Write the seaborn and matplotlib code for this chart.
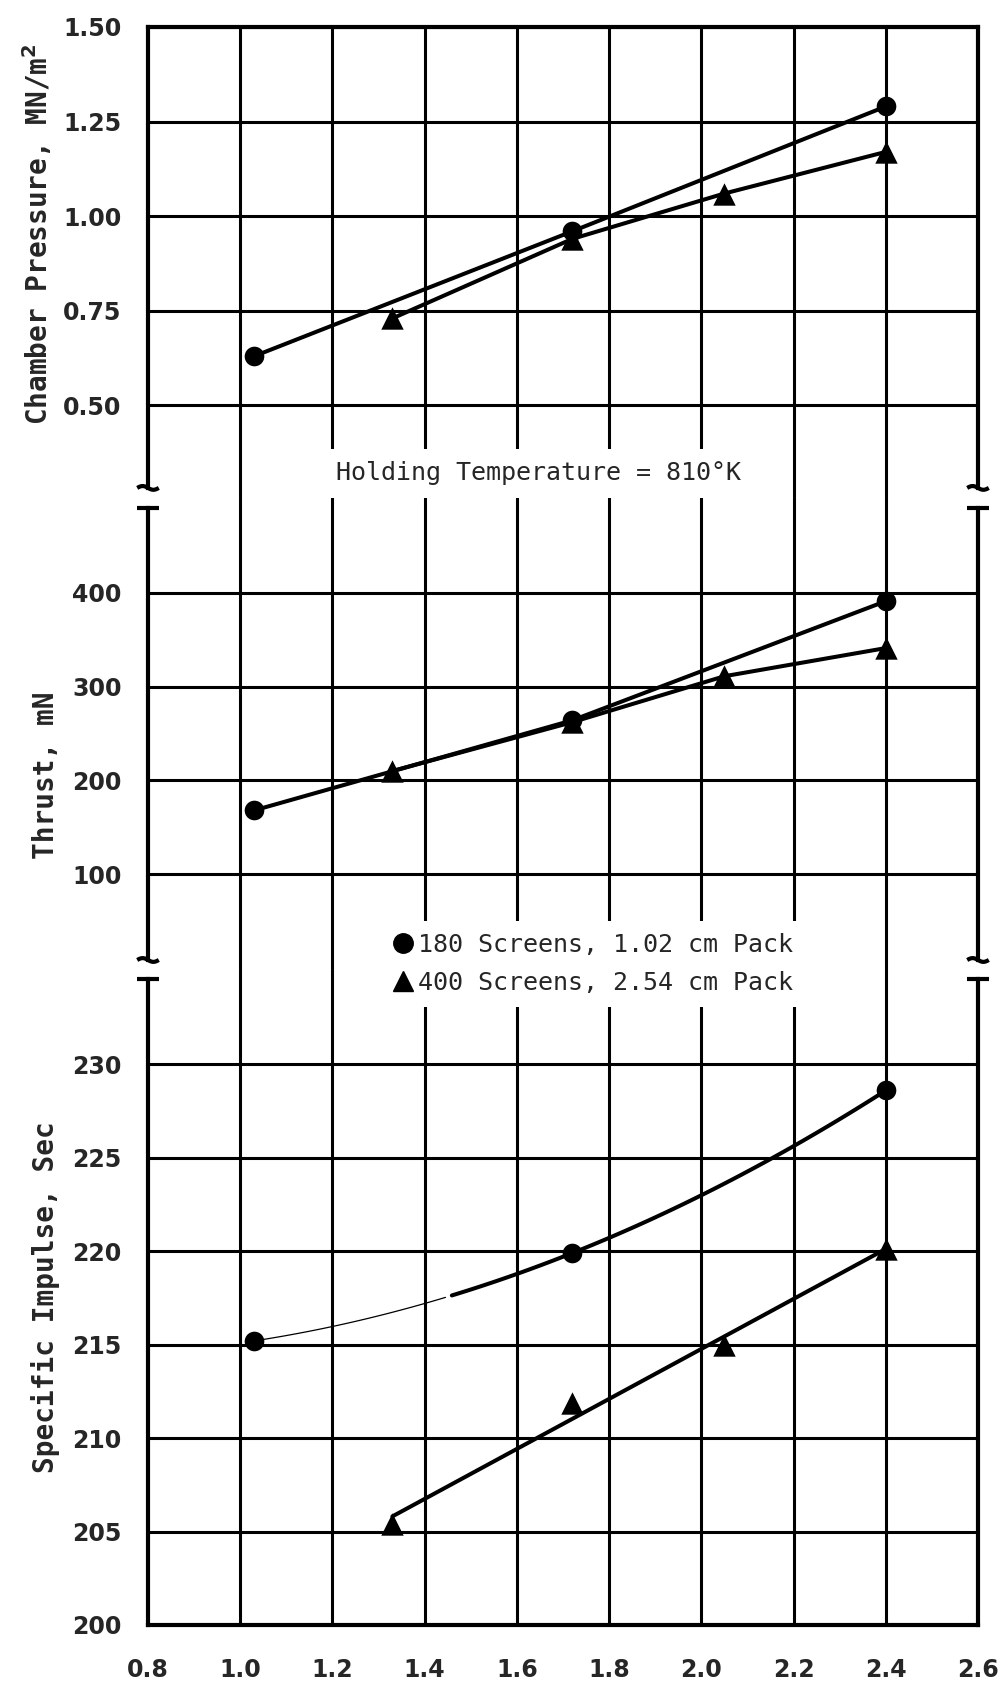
import numpy as np
import pandas as pd
import matplotlib
matplotlib.use("Agg")
import matplotlib.pyplot as plt
import matplotlib.transforms as mtransforms
from matplotlib.lines import Line2D
import seaborn as sns

# ---------------- data ----------------
x_circle = [1.03, 1.72, 2.40]
x_tri = [1.33, 1.72, 2.05, 2.40]

pc_circle = [0.63, 0.96, 1.29]
pc_tri = [0.73, 0.94, 1.06, 1.17]

thrust_circle = [168, 264, 391]
thrust_tri = [210, 262, 311, 341]

isp_circle = [215.2, 219.9, 228.6]
isp_tri = [205.4, 211.9, 215.0, 220.1]

x_ticks = [0.8, 1.0, 1.2, 1.4, 1.6, 1.8, 2.0, 2.2, 2.4, 2.6]
pc_ticks = [0.50, 0.75, 1.00, 1.25, 1.50]
thrust_ticks = [100, 200, 300, 400]
isp_ticks = [200, 205, 210, 215, 220, 225, 230]

series_labels = ["180 Screens, 1.02 cm Pack", "400 Screens, 2.54 cm Pack"]
ylabels = [r"Chamber Pressure, MN/m$^{\mathbf{2}}$", "Thrust, mN", "Specific Impulse, Sec"]
note_text = "Holding Temperature = 810°K"

# ---------------- style ----------------
sns.set_style("white")
plt.rcParams["font.family"] = ["DejaVu Sans"]
plt.rcParams["mathtext.fontset"] = "dejavusans"

W, H = 1003, 1686
fig = plt.figure(figsize=(W / 100, H / 100), dpi=100)

left_px, right_px = 148, 978
bounds_px = [(27, 497), (497, 969), (969, 1625)]
ylims = [(0.258, 1.5), (-1, 502), (200, 235.1)]
yticks = [pc_ticks, thrust_ticks, isp_ticks]
fmts = ["{:.2f}", "{:d}", "{:d}"]
label_pos = [(-0.113, 0.56), (-0.106, 0.41), (-0.106, 0.50)]

LW_FRAME = 3.0
LW_GRID = 2.2
LW_LINE = 2.9

axes = []
for i, ((top, bot), yl) in enumerate(zip(bounds_px, ylims)):
    ax = fig.add_axes([left_px / W, 1 - bot / H, (right_px - left_px) / W, (bot - top) / H])
    ax.set_zorder(3 - i)
    ax.patch.set_visible(False)
    ax.set_xlim(0.8, 2.6)
    ax.set_ylim(*yl)
    axes.append(ax)

series_data = [
    (pc_circle, pc_tri),
    (thrust_circle, thrust_tri),
    (isp_circle, isp_tri),
]

for i, ax in enumerate(axes):
    yt = yticks[i]
    ax.set_yticks(yt)
    ax.set_yticklabels([fmts[i].format(v) for v in yt], fontsize=17, fontweight="bold")
    ax.tick_params(axis="y", length=0, pad=19)
    ax.set_xticks(x_ticks)
    if i == 2:
        ax.set_xticklabels([f"{v:.1f}" for v in x_ticks], fontsize=17, fontweight="bold")
        ax.tick_params(axis="x", length=0, pad=24)
    else:
        ax.tick_params(axis="x", length=0, labelbottom=False)
    ax.grid(False)
    for xv in x_ticks[1:-1]:
        ax.axvline(xv, color="black", lw=LW_GRID, zorder=1)
    for yv in yt:
        ax.axhline(yv, color="black", lw=LW_GRID, zorder=1)

    for s in ["top", "bottom", "left", "right"]:
        ax.spines[s].set_color("black")
        ax.spines[s].set_linewidth(LW_FRAME)
    ax.spines["top"].set_visible(i == 0)
    ax.spines["bottom"].set_visible(i == 2)

top_ax, mid_ax, bot_ax = axes
gap_bounds = [
    (0.282, 1.5),
    (8.6, 490),
    (200, 234.56),
]
for ax, (lo, hi) in zip(axes, gap_bounds):
    ax.spines["left"].set_bounds(lo, hi)
    ax.spines["right"].set_bounds(lo, hi)

def cap(ax, yv, wavy=False):
    tr = mtransforms.blended_transform_factory(ax.transAxes, ax.transData)
    for xc in (0.0, 1.0):
        xs = np.linspace(xc - 0.013, xc + 0.013, 20)
        if wavy:
            (y0, y1) = ax.get_ylim()
            amp = (y1 - y0) * 0.004
            ys = yv + amp * np.sin((xs - xs[0]) / (xs[-1] - xs[0]) * 2 * np.pi)
        else:
            ys = np.full_like(xs, yv)
        ax.plot(xs, ys, color="black", lw=LW_FRAME, transform=tr, clip_on=False,
                solid_capstyle="butt")

cap(top_ax, 0.282, wavy=True)
cap(mid_ax, 490)
cap(mid_ax, 8.6, wavy=True)
cap(bot_ax, 234.56)

# ---------------- data lines and markers ----------------
for i, ax in enumerate(axes):
    yc, ytr = series_data[i]
    dc = pd.DataFrame({"x": x_circle, "y": yc})
    dt = pd.DataFrame({"x": x_tri, "y": ytr})
    if i < 2:
        sns.lineplot(data=dc, x="x", y="y", ax=ax, color="black", lw=LW_LINE, sort=False, zorder=4)
        sns.lineplot(data=dt, x="x", y="y", ax=ax, color="black", lw=LW_LINE, sort=False, zorder=4)
    else:
        cc = np.polyfit(x_circle, yc, 2)
        xs = np.linspace(min(x_circle), max(x_circle), 100)
        curve = pd.DataFrame({"x": xs, "y": np.polyval(cc, xs)})
        faint = curve[curve.x <= 1.45]
        solid = curve[curve.x >= 1.45]
        sns.lineplot(data=faint, x="x", y="y", ax=ax, color="black", lw=0.9, zorder=4)
        sns.lineplot(data=solid, x="x", y="y", ax=ax, color="black", lw=LW_LINE, zorder=4)
        ct = np.polyfit(x_tri, ytr, 1)
        xt = np.array([min(x_tri), max(x_tri)])
        fit = pd.DataFrame({"x": xt, "y": np.polyval(ct, xt)})
        sns.lineplot(data=fit, x="x", y="y", ax=ax, color="black", lw=LW_LINE, zorder=4)
    sns.scatterplot(data=dc, x="x", y="y", ax=ax, marker="o", s=200, color="black",
                    edgecolor="black", linewidth=0, zorder=5, clip_on=False)
    sns.scatterplot(data=dt, x="x", y="y", ax=ax, marker="^", s=260, color="black",
                    edgecolor="black", linewidth=0, zorder=5, clip_on=False)
    ax.set_xlabel("")
    ax.set_ylabel(ylabels[i], fontsize=20, fontweight="bold", family="DejaVu Sans Mono")
    ax.yaxis.set_label_coords(*label_pos[i])
    if ax.get_legend() is not None:
        ax.get_legend().remove()

top_ax.text(1.646, 0.321, note_text, ha="center", va="center", fontsize=18,
            family="DejaVu Sans Mono", zorder=10, clip_on=False,
            bbox=dict(boxstyle="square,pad=0.5", fc="white", ec="none"))

handles = [
    Line2D([], [], ls="none", marker="o", color="black", markersize=14),
    Line2D([], [], ls="none", marker="^", color="black", markersize=15),
]
leg = fig.legend(handles, series_labels, loc="center left",
                 bbox_to_anchor=(381 / W, 1 - 964 / H), frameon=True,
                 facecolor="white", edgecolor="none", fancybox=False, framealpha=1,
                 prop={"family": "DejaVu Sans Mono", "size": 18},
                 handlelength=0.8, handletextpad=0.2, labelspacing=0.55,
                 borderpad=0.5, borderaxespad=0)
leg.set_zorder(20)

fig.savefig("out.png", dpi=100, facecolor="white")
